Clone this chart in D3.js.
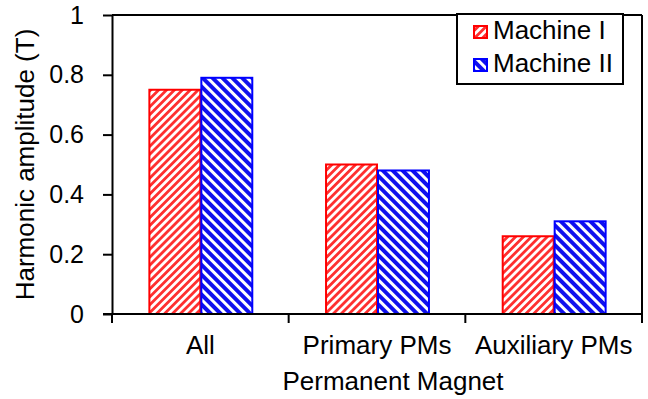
<!DOCTYPE html>
<html><head><meta charset="utf-8">
<script src="https://cdn.jsdelivr.net/npm/d3@7/dist/d3.min.js"></script>
<style>body{margin:0;background:#fff}svg{display:block}text{font-family:"Liberation Sans",Arial,sans-serif;fill:#000}</style>
</head><body><svg id="c" width="648" height="399"></svg>
<script>
const categories = ["All", "Primary PMs", "Auxiliary PMs"];
const seriesNames = ["Machine I", "Machine II"];
const machineI = [0.75, 0.50, 0.26];
const machineII = [0.79, 0.48, 0.31];
const yTicks = [0, 0.2, 0.4, 0.6, 0.8, 1];
const yTickLabels = ["0", "0.2", "0.4", "0.6", "0.8", "1"];

const svg = d3.select("#c");
const W = 648, H = 399;
const m = {l:112, t:15, r:6, b:85};
const FONT = '"Liberation Sans",Arial,sans-serif';
const x0 = d3.scaleBand().domain(categories).range([m.l, W - m.r]).paddingInner(0).paddingOuter(0);
const x1 = d3.scaleBand().domain(seriesNames).range([0, x0.bandwidth()]).paddingInner(0).paddingOuter(0.7);
const y = d3.scaleLinear().domain([0,1]).range([H - m.b, m.t]);

const defs = svg.append("defs");
function hatch(id, color, angle, size, stroke){
  const p = defs.append("pattern").attr("id", id).attr("patternUnits","userSpaceOnUse")
    .attr("width", size).attr("height", size).attr("patternTransform", `rotate(${angle})`);
  p.append("rect").attr("width", size).attr("height", size).attr("fill", "#fff");
  p.append("rect").attr("width", stroke).attr("height", size).attr("fill", color);
}
hatch("hr", "#ff3030", 45, 5.6, 2.8);
hatch("hb", "#1010ee", -45, 7, 4);
const colors = {"Machine I": "#ff0000", "Machine II": "#0000ff"};
const fills = {"Machine I": "url(#hr)", "Machine II": "url(#hb)"};

const data = categories.map((c,i) => ({c, vals:[{s:"Machine I", v:machineI[i]}, {s:"Machine II", v:machineII[i]}]}));

const g = svg.append("g");
g.selectAll("g.cat").data(data).join("g").attr("class","cat")
  .attr("transform", d => `translate(${x0(d.c)},0)`)
  .selectAll("rect").data(d => d.vals).join("rect")
  .attr("x", d => x1(d.s) + 1).attr("width", x1.bandwidth() - 1)
  .attr("y", d => y(d.v)).attr("height", d => y(0) - y(d.v))
  .attr("fill", d => fills[d.s]).attr("stroke", d => colors[d.s]).attr("stroke-width", 2);

// frame top & right
svg.append("line").attr("x1", m.l).attr("x2", W - m.r).attr("y1", y(1)).attr("y2", y(1)).attr("stroke","#000").attr("stroke-width",2);
svg.append("line").attr("x1", W - m.r).attr("x2", W - m.r).attr("y1", y(1)).attr("y2", y(0)).attr("stroke","#000").attr("stroke-width",2);

// y axis
const ya = svg.append("g").attr("transform", `translate(${m.l},0)`)
  .call(d3.axisLeft(y).tickValues(yTicks).tickFormat((d,i) => yTickLabels[i]).tickSize(9).tickSizeOuter(0).tickPadding(19));
ya.select(".domain").attr("stroke-width", 2);
ya.selectAll(".tick line").attr("stroke-width", 2);
ya.selectAll("text").attr("font-size", 25).attr("font-family", FONT);

// x axis
const xTickScale = d3.scaleLinear().domain([0, categories.length]).range([m.l, W - m.r]);
const xa = svg.append("g").attr("transform", `translate(0,${y(0)})`);
xa.append("line").attr("x1", m.l - 9).attr("x2", W - m.r).attr("stroke","#000").attr("stroke-width",2);
xa.selectAll("line.t").data(d3.range(categories.length + 1)).join("line").attr("class","t")
  .attr("x1", d => xTickScale(d)).attr("x2", d => xTickScale(d)).attr("y1", 0).attr("y2", 9)
  .attr("stroke","#000").attr("stroke-width",2);
xa.selectAll("text").data(categories).join("text")
  .attr("x", d => x0(d) + x0.bandwidth()/2).attr("y", 40)
  .attr("text-anchor","middle").attr("font-size", 26).text(d => d);

svg.append("text").attr("x", 393).attr("y", 390).attr("text-anchor","middle").attr("font-size", 26).text("Permanent Magnet");
svg.append("text").attr("transform", `translate(34,${(y(0)+y(1))/2}) rotate(-90)`).attr("text-anchor","middle").attr("font-size", 26).text("Harmonic amplitude (T)");

// legend
const lg = svg.append("g").attr("transform", "translate(457,14)");
lg.append("rect").attr("width", 166).attr("height", 70).attr("fill","#fff").attr("stroke","#000").attr("stroke-width",2);
const li = lg.selectAll("g.li").data(seriesNames).join("g").attr("class","li")
  .attr("transform", (d,i) => `translate(0,${i*33})`);
li.append("rect").attr("x", 17).attr("y", 12).attr("width", 13).attr("height", 12)
  .attr("fill", d => fills[d]).attr("stroke", d => colors[d]).attr("stroke-width", 2);
li.append("text").attr("x", 36).attr("y", 25).attr("font-size", 26).text(d => d);
</script></body></html>
